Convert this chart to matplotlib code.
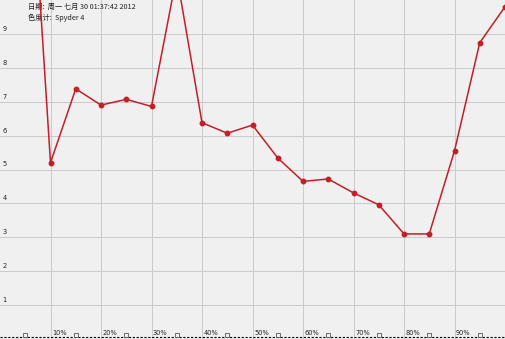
import matplotlib
matplotlib.use("Agg")
import matplotlib.pyplot as plt

# --- data --------------------------------------------------------------------
levels = [5, 10, 15, 20, 25, 30, 35, 40, 45, 50, 55, 60, 65, 70, 75, 80, 85, 90, 95, 100]
values = [16.8, 5.20, 7.38, 6.90, 7.07, 6.86, 10.72, 6.38, 6.07, 6.31,
          5.34, 4.65, 4.72, 4.31, 3.96, 3.10, 3.10, 5.55, 8.74, 9.80]
x_ticks = [10, 20, 30, 40, 50, 60, 70, 80, 90]
x_labels = ["10%", "20%", "30%", "40%", "50%", "60%", "70%", "80%", "90%"]
y_ticks = [1, 2, 3, 4, 5, 6, 7, 8, 9]
bottom_marks = [5, 15, 25, 35, 45, 55, 65, 75, 85, 95]
header = ["日期:  周一 七月 30 01:37:42 2012", "色度计:  Spyder 4"]

plt.rcParams["font.family"] = ["Noto Sans CJK SC", "DejaVu Sans"]

fig = plt.figure(figsize=(5.05, 3.39), dpi=100)
fig.patch.set_facecolor("#f0f0f0")
ax = fig.add_axes([0, 0, 1, 1])
ax.set_facecolor("#f0f0f0")
ax.set_xlim(0, 100)
ax.set_ylim(0, 10)
for s in ax.spines.values():
    s.set_visible(False)
ax.set_xticks([])
ax.set_yticks([])

# grid
for y in y_ticks:
    ax.axhline(y, color="#cbcbcb", linewidth=0.75, zorder=1)
for x in x_ticks:
    ax.axvline(x, color="#cbcbcb", linewidth=0.75, zorder=1)

# labels inside the plot
for y in y_ticks:
    ax.text(0.5, y + 0.06, str(y), fontsize=4.8, va="bottom", ha="left",
            color="#222222", family="DejaVu Sans")
for x, lab in zip(x_ticks, x_labels):
    ax.text(x + 0.3, 0.08, lab, fontsize=4.8, va="bottom", ha="left",
            color="#222222", family="DejaVu Sans")

# bottom dashed axis with hollow squares
ax.axhline(0.05, color="black", linewidth=0.8, linestyle=(0, (2, 1.5)), zorder=2)
ax.plot(bottom_marks, [0.12] * len(bottom_marks), linestyle="none", marker="s",
        markersize=3, markerfacecolor="#f0f0f0", markeredgecolor="#555555",
        markeredgewidth=0.6, zorder=3)

# series
ax.plot(levels, values, color="#c41e26", linewidth=1.1, marker="o",
        markersize=3.2, zorder=4, clip_on=True)

# header text
ax.text(5.5, 9.79, header[0], fontsize=5.2, va="center", ha="left", color="#222222")
ax.text(5.5, 9.48, header[1], fontsize=5.2, va="center", ha="left", color="#222222")

fig.savefig("out.png", dpi=100, facecolor=fig.get_facecolor())
